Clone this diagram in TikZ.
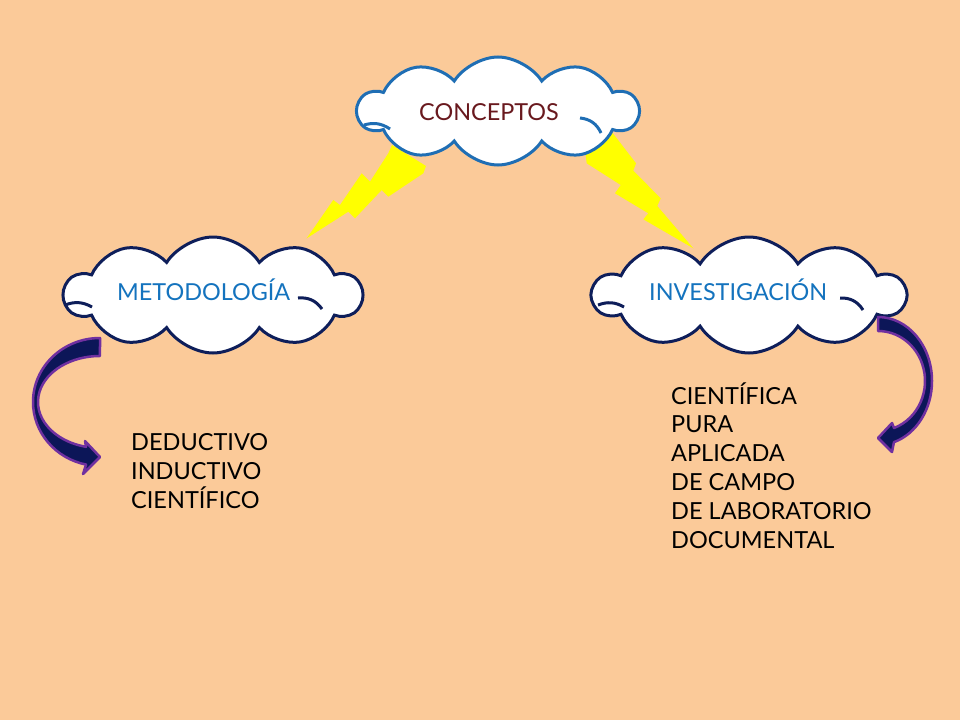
\documentclass[tikz,border=0pt]{standalone}
\usepackage{fontspec}
\setmainfont{Lato}
\usetikzlibrary{shapes.symbols,calc}
\definecolor{bg}{RGB}{251,202,153}
\definecolor{cloudblue}{RGB}{31,110,180}
\definecolor{cloudnavy}{RGB}{14,30,90}
\definecolor{conmaroon}{RGB}{105,25,30}
\definecolor{textblue}{RGB}{20,115,190}
\definecolor{arrownavy}{RGB}{12,22,88}
\definecolor{arrowpurple}{RGB}{112,48,160}
\definecolor{boltyellow}{RGB}{255,255,0}
\begin{document}
\begin{tikzpicture}[x=1pt,y=-1pt,
  cloudbox/.style={cloud, cloud puffs=10, cloud puff arc=115, fill=white, line width=3pt, inner sep=0pt},
  crease/.style={line width=3pt},
  cloudtext/.style={anchor=base west, inner sep=0pt, font=\fontsize{23.4}{28}\selectfont},
  listtext/.style={anchor=base west, inner sep=0pt, align=left, font=\fontsize{23.5}{28.9}\selectfont},
  bolt/.style={fill=boltyellow, draw=none},
  bigarrow/.style={fill=arrownavy, draw=arrowpurple, line width=2.5pt, line join=round}]
\fill[bg] (0,0) rectangle (960,720);
\useasboundingbox (0,0) rectangle (960,720);
% lightning bolts (behind the clouds)
\fill[bolt] (392,145) -- (426,166) -- (423.3,173.3) -- (388.3,196.7) -- (381.7,190) -- (355,218.3) -- (348.3,211.7)
  -- (306.7,238.3) -- (333.3,200) -- (340,205) -- (361.7,173.3) -- (370,181.7) -- (388.3,153.3) -- cycle;
\fill[bolt] (610,130) -- (616,137.3) -- (636,163.3) -- (633.3,170.7) -- (660.7,198.3) -- (657.3,206) -- (693.3,248.3)
  -- (643.3,219.3) -- (648.3,213.3) -- (615,193.3) -- (620.7,185) -- (586.7,163.3) -- (585,150) -- cycle;
% clouds
\node[cloudbox, draw=cloudblue, minimum width=280pt, minimum height=108pt] (cC) at (498,111) {};
\node[cloudbox, draw=cloudnavy, minimum width=297pt, minimum height=116pt] (cM) at (213,295) {};
\node[cloudbox, draw=cloudnavy, minimum width=312pt, minimum height=116pt] (cI) at (749,295) {};
\draw[crease, cloudblue] (364,125) to[bend left=25] (390,129);
\draw[crease, cloudblue] (580,118) to[bend left=30] (601,133);
\draw[crease, cloudnavy] (65,305) to[bend left=25] (92,307);
\draw[crease, cloudnavy] (298,298) to[bend left=30] (322,309);
\draw[crease, cloudnavy] (598,305) to[bend left=25] (624,307);
\draw[crease, cloudnavy] (840,298) to[bend left=30] (863,310);
% cloud texts
\node[cloudtext, text=conmaroon] (tC) at (419,120) {CONCEPTOS};
\node[cloudtext, text=textblue] (tM) at (117,300) {METODOLOGÍA};
\node[cloudtext, text=textblue] (tI) at (649,300) {INVESTIGACIÓN};
% lists (base anchor = baseline of the last line)
\node[listtext] (lM) at (131,508.3) {DEDUCTIVO\\INDUCTIVO\\CIENTÍFICO};
\node[listtext] (lI) at (671,548.5) {CIENTÍFICA\\PURA\\APLICADA\\DE CAMPO\\DE LABORATORIO\\DOCUMENTAL};
% curved arrows
\draw[bigarrow] (100,338) arc[start angle=270, end angle=102, x radius=67, y radius=64]
  -- (83,474) -- (100,457) -- (85,441) -- (86.05,446.8)
  arc[start angle=103, end angle=270, x radius=62, y radius=46] -- cycle;
\draw[bigarrow] (878,317) arc[start angle=270, end angle=432.8, x radius=54, y radius=64]
  -- (892,452) -- (878,438) -- (892,423) -- (894,428)
  arc[start angle=430.1, end angle=270, x radius=47, y radius=50] -- cycle;
\end{tikzpicture}
\end{document}
